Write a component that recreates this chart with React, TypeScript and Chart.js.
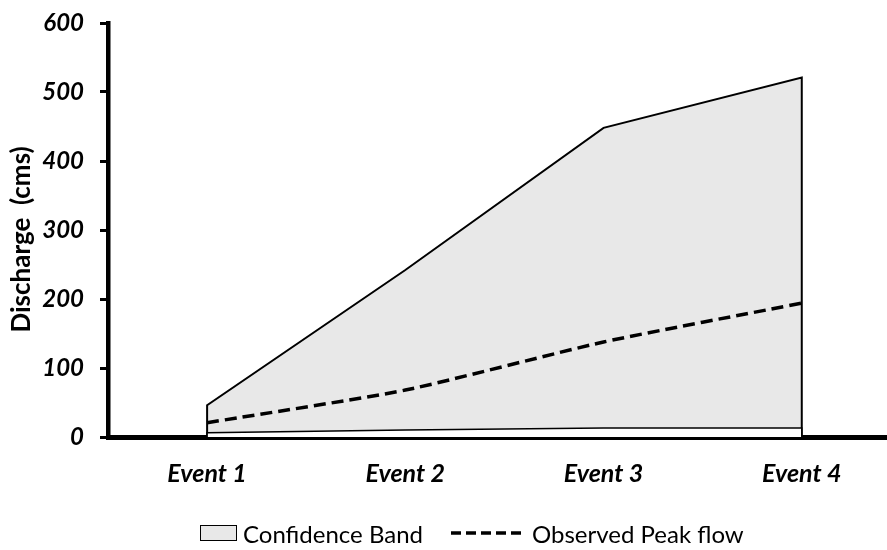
import React, { useEffect, useRef } from "react";
import { Chart, registerables } from "chart.js";

Chart.register(...registerables);

const categories = ["Event 1", "Event 2", "Event 3", "Event 4"];
const upperBound = [46, 242, 448, 521];
const lowerBound = [6, 10, 13, 13];
const observedPeak = [20.7, 68, 137.7, 194];
const yTicks = [0, 100, 200, 300, 400, 500, 600];

const FONT = "Lato, 'Open Sans', sans-serif";

function closedArea(values: number[]) {
  const pts = values.map((v, i) => ({ x: i + 1, y: v }));
  return [{ x: 1, y: 0 }, ...pts, { x: values.length, y: 0 }];
}

export default function App() {
  const ref = useRef<HTMLCanvasElement | null>(null);
  useEffect(() => {
    if (!ref.current) return;
    const chart = new Chart(ref.current, {
      type: "line",
      data: {
        datasets: [
          {
            label: "Observed Peak flow",
            data: observedPeak.map((v, i) => ({ x: i + 1, y: v })),
            borderColor: "#000",
            borderWidth: 3.5,
            borderDash: [12, 6],
            pointRadius: 0,
            fill: false,
            tension: 0.2,
          },
          {
            label: "lower",
            data: closedArea(lowerBound),
            borderColor: "#000",
            borderWidth: 1.5,
            backgroundColor: "#ffffff",
            pointRadius: 0,
            fill: "origin",
            tension: 0,
          },
          {
            label: "Confidence Band",
            data: closedArea(upperBound),
            borderColor: "#000",
            borderWidth: 2,
            backgroundColor: "#e8e8e8",
            pointRadius: 0,
            fill: "origin",
            tension: 0,
          },
        ],
      },
      options: {
        animation: false,
        responsive: false,
        layout: { padding: { top: 23, right: 0, left: 0, bottom: 0 } },
        plugins: { legend: { display: false }, tooltip: { enabled: false } },
        scales: {
          x: {
            type: "linear",
            min: 0.5,
            max: 4.43,
            afterBuildTicks: (s: any) => {
              s.ticks = categories.map((_, i) => ({ value: i + 1 }));
            },
            afterFit: (s: any) => {
              s.height = 113;
              s.paddingLeft = 0;
              s.paddingRight = 0;
            },
            ticks: {
              callback: (v: any) => categories[Math.round(Number(v)) - 1] ?? "",
              font: { family: FONT, size: 25, weight: "bold", style: "italic" },
              color: "#000",
              padding: 22,
              maxRotation: 0,
            },
            grid: { display: false, drawTicks: false },
            border: { display: true, color: "#000", width: 5 },
          },
          y: {
            min: 0,
            max: 600,
            afterBuildTicks: (s: any) => {
              s.ticks = yTicks.map((v) => ({ value: v }));
            },
            afterFit: (s: any) => {
              s.width = 108;
              s.paddingTop = 10;
              s.paddingBottom = 10;
            },
            ticks: {
              font: { family: FONT, size: 24, weight: "bold", style: "italic" },
              color: "#000",
              padding: 16,
            },
            grid: {
              drawOnChartArea: false,
              drawTicks: true,
              tickLength: 8,
              tickWidth: 3,
              tickColor: "#000",
            },
            border: { display: true, color: "#000", width: 4.5 },
            title: {
              display: true,
              text: "Discharge  (cms)   ",
              font: { family: FONT, size: 26, weight: "bold" },
              color: "#000",
              padding: { top: 6, bottom: 0 },
            },
          },
        },
      },
    });
    return () => chart.destroy();
  }, []);

  return (
    <div style={{ position: "fixed", left: 0, top: 0, width: 887, height: 550, background: "#fff" }}>
      <canvas ref={ref} width={887} height={550} style={{ display: "block" }} />
      <div
        style={{
          position: "absolute",
          left: 200,
          top: 518,
          height: 30,
          display: "flex",
          alignItems: "center",
          fontFamily: FONT,
          fontSize: 24,
          color: "#000",
          whiteSpace: "nowrap",
        }}
      >
        <span
          style={{
            display: "inline-block",
            width: 35,
            height: 14,
            background: "#e8e8e8",
            border: "1.5px solid #000",
            marginRight: 6,
          }}
        />
        <span>Confidence Band</span>
        <svg width={72} height={10} style={{ marginLeft: 28, marginRight: 9 }}>
          <line x1={0} y1={5} x2={72} y2={5} stroke="#000" strokeWidth={3.5} strokeDasharray="10 5" />
        </svg>
        <span>Observed Peak flow</span>
      </div>
    </div>
  );
}
